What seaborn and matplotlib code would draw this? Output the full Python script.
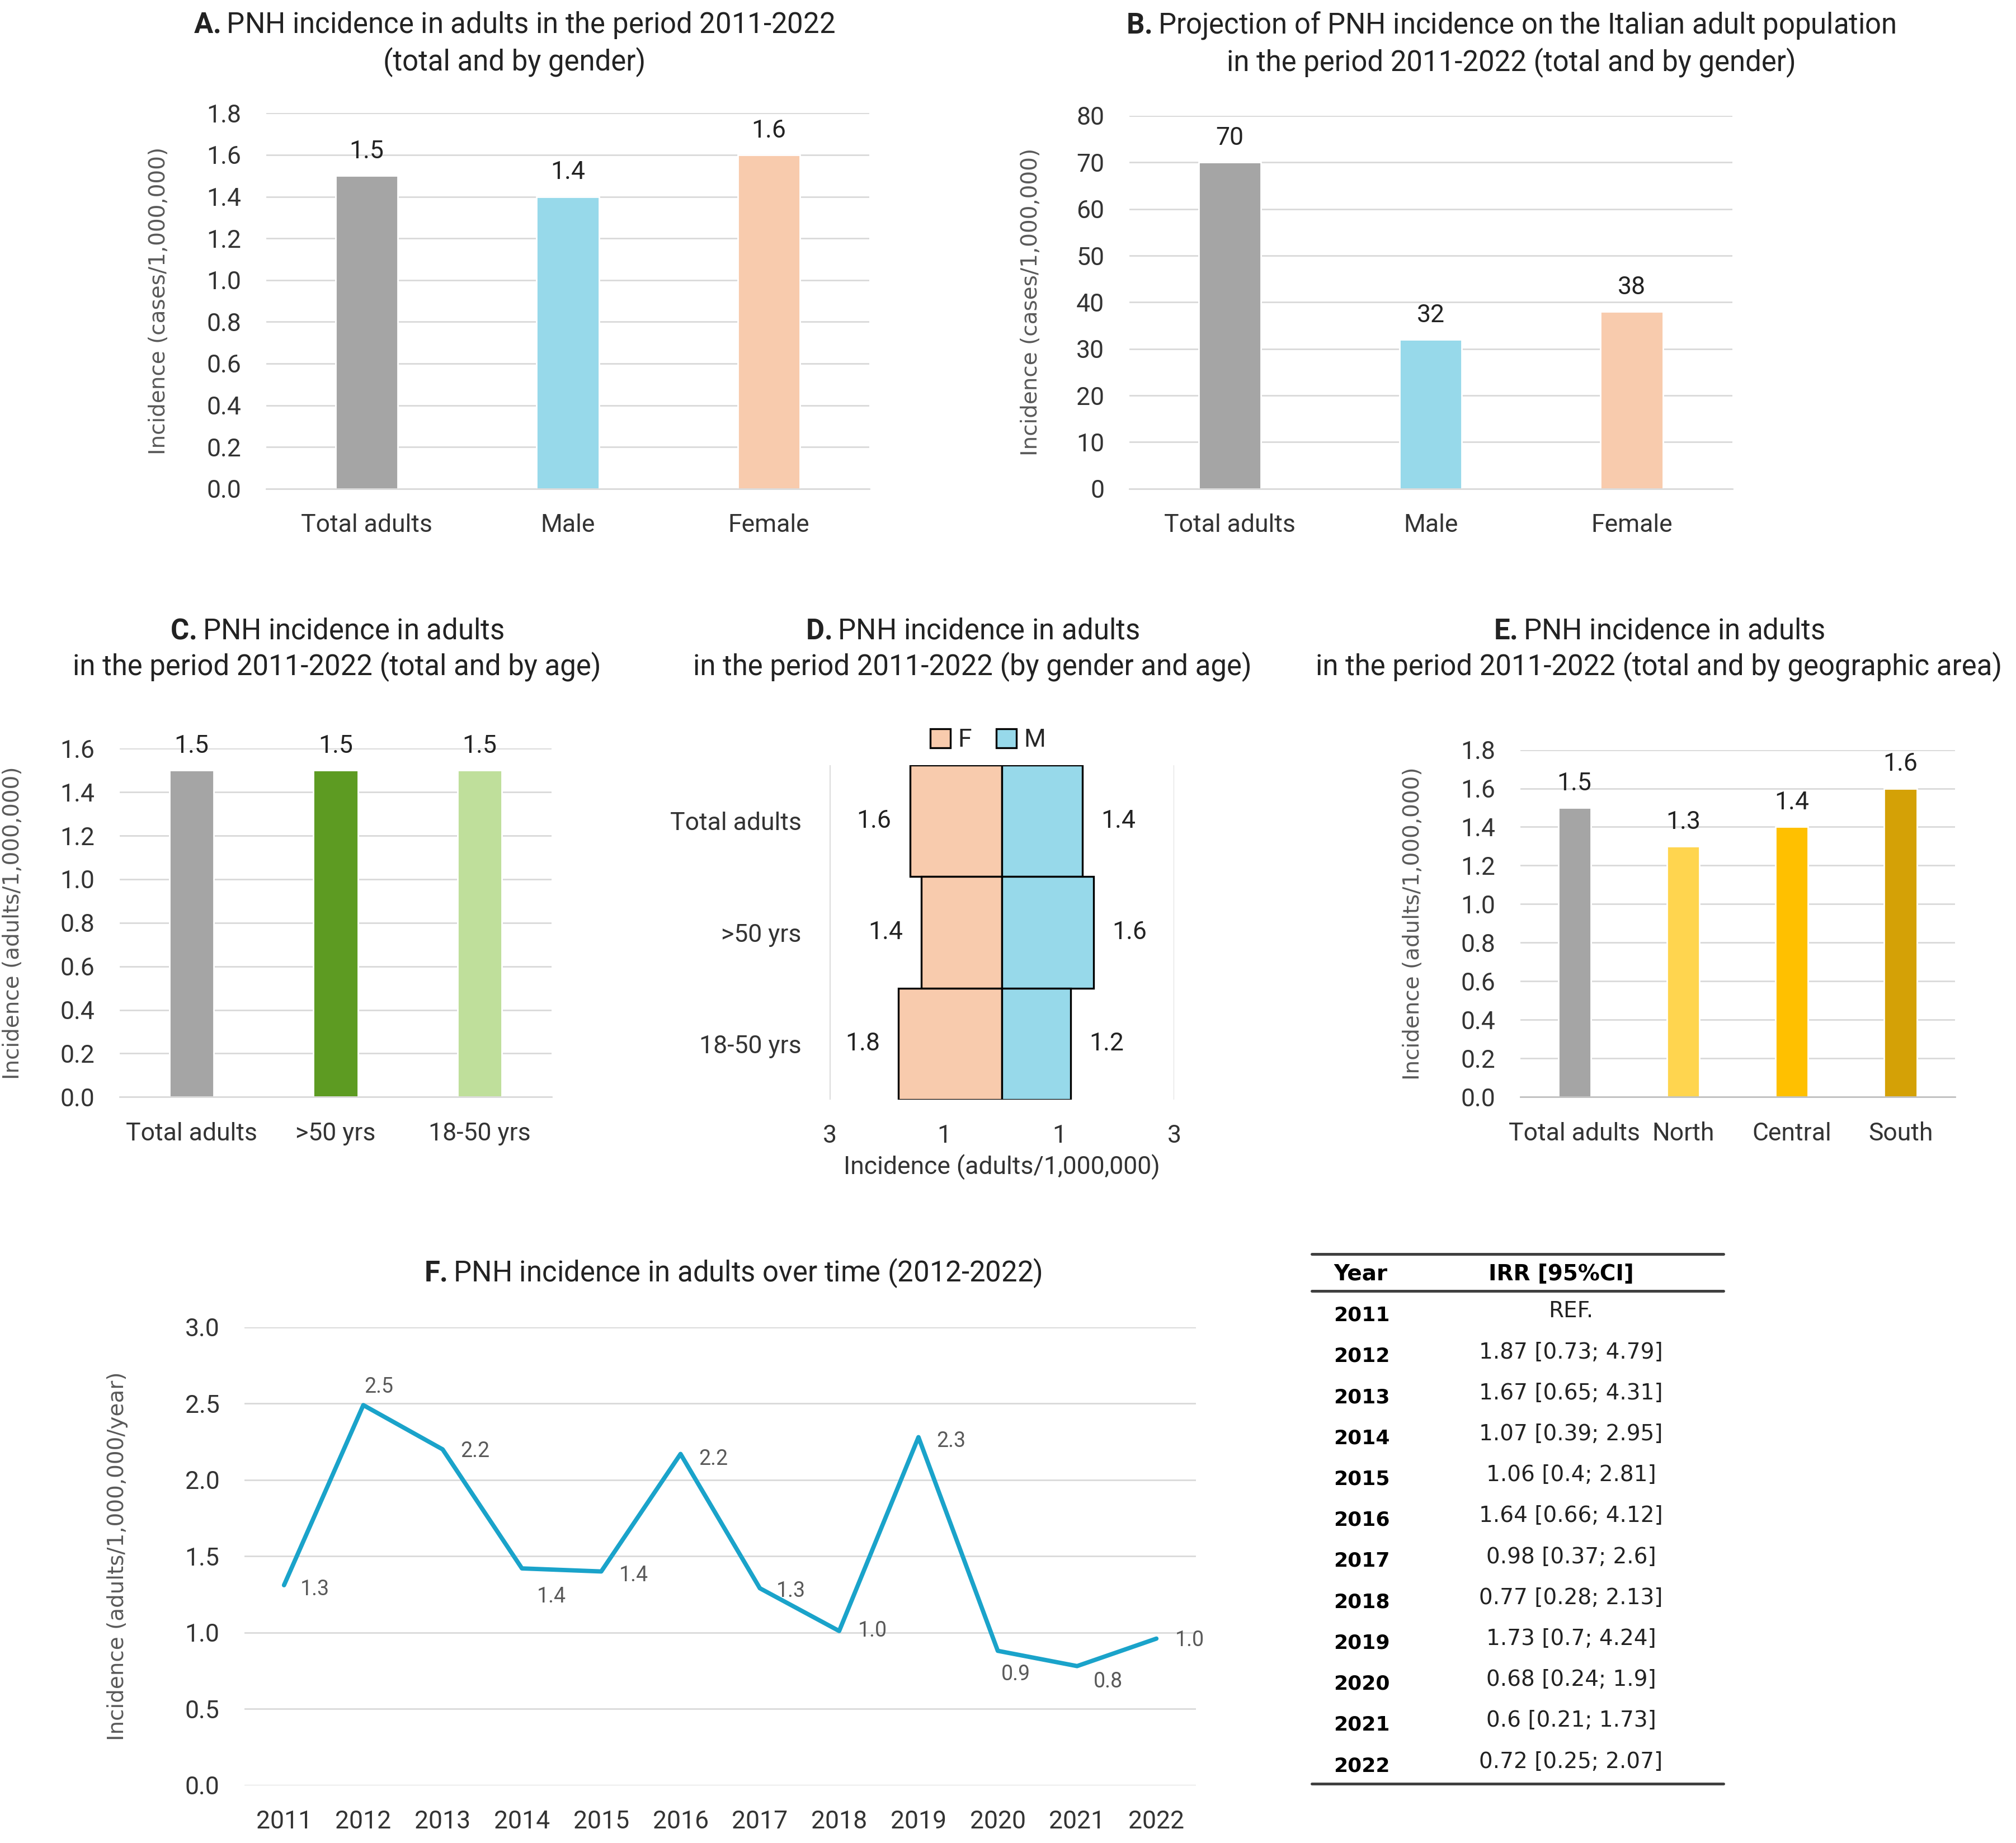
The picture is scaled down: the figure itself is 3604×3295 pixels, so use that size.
import matplotlib
matplotlib.use("Agg")
import matplotlib.pyplot as plt
import seaborn as sns
import pandas as pd
from matplotlib.patches import Patch
from matplotlib.ticker import MultipleLocator, FormatStrFormatter, FuncFormatter

sns.set_style("white")
plt.rcParams["font.family"] = ["Roboto", "DejaVu Sans"]
plt.rcParams["mathtext.fontset"] = "custom"
plt.rcParams["mathtext.rm"] = "Roboto"
plt.rcParams["mathtext.bf"] = "Roboto:bold"

# ---- data ----
gender_cats = ["Total adults", "Male", "Female"]
gender_inc = [1.5, 1.4, 1.6]
gender_proj = [70, 32, 38]

age_cats = ["Total adults", ">50 yrs", "18-50 yrs"]
age_inc = [1.5, 1.5, 1.5]

d_groups = ["Total adults", ">50 yrs", "18-50 yrs"]
d_female = [1.6, 1.4, 1.8]
d_male = [1.4, 1.6, 1.2]

area_cats = ["Total adults", "North", "Central", "South"]
area_inc = [1.5, 1.3, 1.4, 1.6]

years = [2011, 2012, 2013, 2014, 2015, 2016, 2017, 2018, 2019, 2020, 2021, 2022]
year_inc = [1.31, 2.49, 2.2, 1.42, 1.40, 2.17, 1.29, 1.01, 2.28, 0.88, 0.78, 0.96]
irr_labels = ["REF.", "1.87 [0.73; 4.79]", "1.67 [0.65; 4.31]", "1.07 [0.39; 2.95]",
              "1.06 [0.4; 2.81]", "1.64 [0.66; 4.12]", "0.98 [0.37; 2.6]",
              "0.77 [0.28; 2.13]", "1.73 [0.7; 4.24]", "0.68 [0.24; 1.9]",
              "0.6 [0.21; 1.73]", "0.72 [0.25; 2.07]"]

# ---- colours ----
GRAY = "#A5A5A5"
BLUE = "#97D9EA"
PEACH = "#F8CBAD"
GREEN = "#5D9B22"
LGREEN = "#BFDF9B"
GOLD_L = "#FFD54F"
GOLD = "#FFC000"
GOLD_D = "#D4A106"
LINE = "#1AA3CA"
GRID = "#D9D9D9"
TXT = "#333333"

W, H = 1568, 1433


def rect(x0, y0, x1, y1):
    return [x0 / W, 1 - y1 / H, (x1 - x0) / W, (y1 - y0) / H]


def style_ax(ax, ymax, step, fmt, ylabel, lab_x):
    ax.set_ylim(0, ymax)
    ax.yaxis.set_major_locator(MultipleLocator(step))
    ax.yaxis.set_major_formatter(FormatStrFormatter(fmt))
    ax.grid(axis="y", color=GRID, lw=1.0)
    ax.grid(axis="x", visible=False)
    ax.set_axisbelow(True)
    for s in ["top", "right", "left"]:
        ax.spines[s].set_visible(False)
    ax.spines["bottom"].set_color(GRID)
    ax.spines["bottom"].set_linewidth(1.0)
    ax.tick_params(length=0, pad=16, labelsize=16, labelcolor=TXT)
    ax.set_xlabel("")
    ax.set_ylabel(ylabel, fontsize=14, family="DejaVu Sans", color="#595959")
    ax.yaxis.set_label_coords(lab_x, 0.5)


def bar_panel(ax, cats, vals, colors, width):
    sns.barplot(x=cats, y=vals, hue=cats, palette=colors, legend=False,
                saturation=1, width=width, errorbar=None, ax=ax)


fig = plt.figure(figsize=(18.025, 16.475))


def title(x, y, txt):
    fig.text(x / W, 1 - y / H, txt, ha="center", va="center", fontsize=18.3,
             color="#222222", linespacing=1.3, multialignment="center")


# A
axA = fig.add_axes(rect(207, 88, 676, 380))
bar_panel(axA, gender_cats, gender_inc, [GRAY, BLUE, PEACH], 0.31)
style_ax(axA, 1.8, 0.2, "%.1f", "Incidence (cases/1,000,000)", -0.16)
for c in axA.containers:
    axA.bar_label(c, fmt="%.1f", padding=8, fontsize=16, color="#222222")
title(400, 34, r"$\bf{A.}$PNH incidence in adults in the period 2011-2022" + "\n(total and by gender)")

# B
axB = fig.add_axes(rect(878, 90, 1347, 380))
bar_panel(axB, gender_cats, gender_proj, [GRAY, BLUE, PEACH], 0.31)
style_ax(axB, 80, 10, "%d", "Incidence (cases/1,000,000)", -0.145)
for c in axB.containers:
    axB.bar_label(c, fmt="%d", padding=8, fontsize=16, color="#222222")
title(1175, 34, r"$\bf{B.}$Projection of PNH incidence on the Italian adult population" + "\nin the period 2011-2022 (total and by gender)")

# C
axC = fig.add_axes(rect(93, 582, 429, 853))
bar_panel(axC, age_cats, age_inc, [GRAY, GREEN, LGREEN], 0.31)
style_ax(axC, 1.6, 0.2, "%.1f", "Incidence (adults/1,000,000)", -0.223)
for c in axC.containers:
    axC.bar_label(c, fmt="%.1f", padding=8, fontsize=16, color="#222222")
title(262, 505, r"$\bf{C.}$PNH incidence in adults" + "\nin the period 2011-2022 (total and by age)")

# D
axD = fig.add_axes(rect(645, 595, 913, 855))
dfD = pd.DataFrame({
    "group": d_groups * 2,
    "sex": ["F"] * len(d_groups) + ["M"] * len(d_groups),
    "value": [-v for v in d_female] + d_male,
})
sns.barplot(data=dfD, x="value", y="group", hue="sex", order=d_groups,
            hue_order=["F", "M"], palette={"F": PEACH, "M": BLUE}, dodge=False,
            width=1.0, orient="h", saturation=1, edgecolor="black", linewidth=1.2,
            errorbar=None, legend=False, ax=axD)
axD.set_xlim(-3, 3)
axD.set_xticks([-3, -1, 1, 3])
axD.xaxis.set_major_formatter(FuncFormatter(lambda v, p: f"{abs(v):g}"))
axD.grid(axis="x", color=GRID, lw=1.0)
axD.grid(axis="y", visible=False)
axD.set_axisbelow(True)
for s in axD.spines.values():
    s.set_visible(False)
axD.tick_params(axis="x", length=0, pad=16, labelsize=16, labelcolor=TXT)
axD.tick_params(axis="y", length=0, pad=18, labelsize=16, labelcolor=TXT)
axD.set_ylabel("")
axD.set_xlabel("Incidence (adults/1,000,000)", fontsize=16, color=TXT, labelpad=4)
for c in axD.containers:
    axD.bar_label(c, labels=[f"{abs(b.get_width()):.1f}" for b in c], padding=12,
                  fontsize=16, color="#222222")
handles = [Patch(facecolor=PEACH, edgecolor="black", lw=1.2, label="F"),
           Patch(facecolor=BLUE, edgecolor="black", lw=1.2, label="M")]
axD.legend(handles=handles, loc="lower center", bbox_to_anchor=(0.46, 1.01), ncol=2,
           frameon=False, fontsize=16, handlelength=0.8, handleheight=0.8,
           handletextpad=0.3, columnspacing=1.0, borderaxespad=0)
title(756, 505, r"$\bf{D.}$PNH incidence in adults" + "\nin the period 2011-2022 (by gender and age)")

# E
axE = fig.add_axes(rect(1182, 583, 1520, 853))
bar_panel(axE, area_cats, area_inc, [GRAY, GOLD_L, GOLD, GOLD_D], 0.30)
style_ax(axE, 1.8, 0.2, "%.1f", "Incidence (adults/1,000,000)", -0.222)
axE.spines["bottom"].set_color("#BFBFBF")
axE.set_xticks([-0.5, 0.5, 1.5, 2.5, 3.5], minor=True)
axE.tick_params(axis="x", which="minor", length=7, width=1.0, color="#BFBFBF", direction="out")
axE.tick_params(axis="x", which="major", length=0)
for c in axE.containers:
    axE.bar_label(c, fmt="%.1f", padding=8, fontsize=16, color="#222222")
title(1290, 505, r"$\bf{E.}$PNH incidence in adults" + "\nin the period 2011-2022 (total and by geographic area)")

# F
axF = fig.add_axes(rect(190, 1032, 930, 1388))
sns.lineplot(x=years, y=year_inc, color=LINE, lw=2.8, ax=axF)
axF.set_xlim(2010.5, 2022.5)
axF.set_xticks(years)
axF.set_ylim(0, 3.0)
axF.yaxis.set_major_locator(MultipleLocator(0.5))
axF.yaxis.set_major_formatter(FormatStrFormatter("%.1f"))
axF.grid(axis="y", color=GRID, lw=1.0)
axF.grid(axis="x", visible=False)
axF.set_axisbelow(True)
for s in axF.spines.values():
    s.set_visible(False)
axF.tick_params(length=0, pad=16, labelsize=16, labelcolor=TXT)
axF.set_ylabel("Incidence (adults/1,000,000/year)", fontsize=14, family="DejaVu Sans", color="#595959")
axF.yaxis.set_label_coords(-0.122, 0.5)
label_offsets = [(20, -2.5), (10, 11.6), (21, -1), (19, -18), (21, -2.5), (21, -3.3),
                 (20, -1.7), (21.5, 0), (21, -2.5), (11.6, -15), (20, -10), (21.5, -1)]
for x, v, off in zip(years, year_inc, label_offsets):
    axF.annotate(f"{v:.1f}", (x, v), xytext=off, textcoords="offset points",
                 ha="center", va="center", fontsize=13.5, color="#595959")
fig.text(570 / W, 1 - 990 / H, r"$\bf{F.}$PNH incidence in adults over time (2012-2022)",
         ha="center", va="center", fontsize=18.3, color="#222222")

# table
axT = fig.add_axes(rect(1020, 975, 1340, 1387))
axT.axis("off")
axT.set_xlim(0, 1)
axT.set_ylim(11.44, -1.5)
for yline in [-1.5, -0.6, 11.44]:
    axT.axhline(yline, color="#404040", lw=1.8, clip_on=False)
tr = axT.get_yaxis_transform()
axT.text(0.053, -1.02, "Year", transform=tr, ha="left", va="center", fontsize=14,
         family="DejaVu Sans", fontweight="bold", color="black")
axT.text(0.606, -1.02, "IRR [95%CI]", transform=tr, ha="center", va="center", fontsize=14,
         family="DejaVu Sans", fontweight="bold", color="black")
for i, (yr, lab) in enumerate(zip(years, irr_labels)):
    axT.text(0.053, i, str(yr), transform=tr, ha="left", va="center", fontsize=13,
             family="DejaVu Sans", fontweight="bold", color="black")
    axT.text(0.63, i - 0.1, lab, transform=tr, ha="center", va="center", fontsize=14,
             family="DejaVu Sans", color="#222222")

fig.savefig("out.png", dpi=200, facecolor="white")
